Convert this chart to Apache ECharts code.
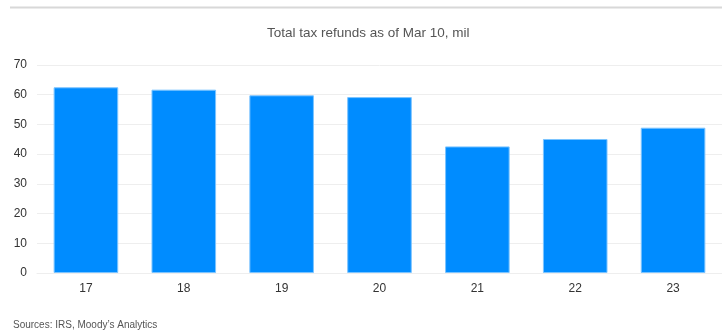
<!DOCTYPE html>
<html><head><meta charset="utf-8">
<script src="https://cdn.jsdelivr.net/npm/echarts@6/dist/echarts.min.js"></script>
<style>html,body{margin:0;padding:0;background:#fff}#c{width:722px;height:332px}</style>
</head><body><div id="c"></div>
<script>
const categories = ['17','18','19','20','21','22','23'];
const refunds = [62.5, 61.7, 59.8, 59.2, 42.6, 45.1, 48.9];
const yTicks = [0,10,20,30,40,50,60,70];
const titleText = 'Total tax refunds as of Mar 10, mil';
const sourceText = 'Sources: IRS, Moody\u2019s Analytics';

const chart = echarts.init(document.getElementById('c'), null, {renderer:'canvas'});
chart.setOption({
  animation:false,
  backgroundColor:'#fff',
  title:{text:titleText,left:262,top:21,textStyle:{fontFamily:'Liberation Sans, Arial',fontSize:13.5,fontWeight:'normal',color:'#555'}},
  graphic:[
    {type:'line',shape:{x1:10,y1:7.5,x2:722,y2:7.5},style:{stroke:'#d8d8d8',lineWidth:2}},
    {type:'text',left:13,top:320,style:{text:sourceText,fontFamily:'Liberation Sans, Arial',fontSize:10,fill:'#555'}}
  ],
  grid:{left:37,right:-1,top:65,bottom:59,containLabel:false},
  xAxis:{type:'category',data:categories,
    axisLine:{show:true,lineStyle:{color:'#eee'}},axisTick:{show:false},
    axisLabel:{color:'#333',fontFamily:'Liberation Sans, Arial',fontSize:12,margin:10}},
  yAxis:{type:'value',min:yTicks[0],max:yTicks[yTicks.length-1],interval:10,
    axisLine:{show:false},axisTick:{show:false},
    splitLine:{lineStyle:{color:'#eee'}},
    axisLabel:{color:'#333',fontFamily:'Liberation Sans, Arial',fontSize:12,margin:10}},
  series:[{type:'bar',data:refunds,barWidth:'66%',
    itemStyle:{color:'#008cff',borderColor:'#7cc4ff',borderWidth:1}}]
});
</script></body></html>
